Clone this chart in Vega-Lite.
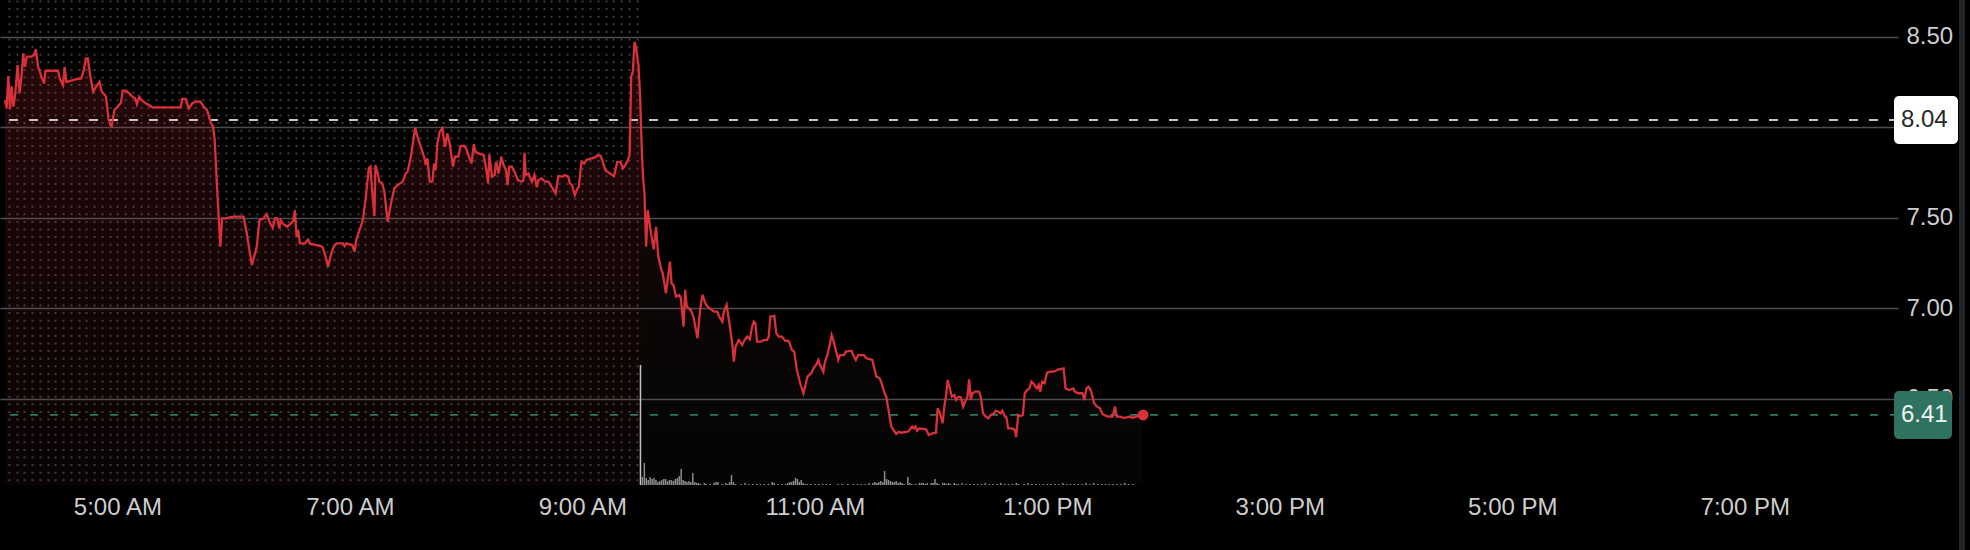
{
  "$schema": "https://vega.github.io/schema/vega-lite/v6.json",
  "width": 1898,
  "height": 485,
  "autosize": {"type": "none"},
  "padding": {"left": 0, "top": 0, "right": 72, "bottom": 65},
  "background": "#000000",
  "config": {"view": {"stroke": null}, "font": "Liberation Sans", "axis": {"labelFont": "Liberation Sans", "labelOverlap": false}, "axisX": {"labelOverlap": false}},
  "datasets": {
    "price": [
      {"t":"2024-01-02T04:02:00Z","p":8.150},{"t":"2024-01-02T04:02:51Z","p":8.104},{"t":"2024-01-02T04:03:43Z","p":8.283},{"t":"2024-01-02T04:04:34Z","p":8.099},{"t":"2024-01-02T04:05:25Z","p":8.227},{"t":"2024-01-02T04:06:17Z","p":8.113},{"t":"2024-01-02T04:07:08Z","p":8.169},{"t":"2024-01-02T04:08:30Z","p":8.343},{"t":"2024-01-02T04:09:31Z","p":8.187},{"t":"2024-01-02T04:10:33Z","p":8.288},{"t":"2024-01-02T04:11:25Z","p":8.408},{"t":"2024-01-02T04:12:16Z","p":8.334},{"t":"2024-01-02T04:13:17Z","p":8.390},{"t":"2024-01-02T04:15:41Z","p":8.390},{"t":"2024-01-02T04:17:03Z","p":8.399},{"t":"2024-01-02T04:17:54Z","p":8.430},{"t":"2024-01-02T04:19:06Z","p":8.334},{"t":"2024-01-02T04:20:49Z","p":8.279},{"t":"2024-01-02T04:22:11Z","p":8.242},{"t":"2024-01-02T04:22:52Z","p":8.312},{"t":"2024-01-02T04:29:22Z","p":8.312},{"t":"2024-01-02T04:30:13Z","p":8.270},{"t":"2024-01-02T04:31:56Z","p":8.233},{"t":"2024-01-02T04:32:47Z","p":8.334},{"t":"2024-01-02T04:33:38Z","p":8.251},{"t":"2024-01-02T04:35:21Z","p":8.255},{"t":"2024-01-02T04:38:46Z","p":8.266},{"t":"2024-01-02T04:41:20Z","p":8.270},{"t":"2024-01-02T04:42:42Z","p":8.316},{"t":"2024-01-02T04:43:44Z","p":8.380},{"t":"2024-01-02T04:44:45Z","p":8.380},{"t":"2024-01-02T04:46:07Z","p":8.279},{"t":"2024-01-02T04:47:29Z","p":8.196},{"t":"2024-01-02T04:49:02Z","p":8.224},{"t":"2024-01-02T04:50:44Z","p":8.251},{"t":"2024-01-02T04:51:56Z","p":8.196},{"t":"2024-01-02T04:53:18Z","p":8.181},{"t":"2024-01-02T04:54:10Z","p":8.169},{"t":"2024-01-02T04:55:22Z","p":8.049},{"t":"2024-01-02T04:56:23Z","p":8.012},{"t":"2024-01-02T04:57:04Z","p":8.006},{"t":"2024-01-02T04:58:26Z","p":8.095},{"t":"2024-01-02T04:59:48Z","p":8.110},{"t":"2024-01-02T05:01:51Z","p":8.135},{"t":"2024-01-02T05:02:43Z","p":8.202},{"t":"2024-01-02T05:04:25Z","p":8.202},{"t":"2024-01-02T05:06:08Z","p":8.187},{"t":"2024-01-02T05:07:50Z","p":8.169},{"t":"2024-01-02T05:09:13Z","p":8.159},{"t":"2024-01-02T05:10:04Z","p":8.128},{"t":"2024-01-02T05:11:16Z","p":8.169},{"t":"2024-01-02T05:12:28Z","p":8.150},{"t":"2024-01-02T05:14:41Z","p":8.132},{"t":"2024-01-02T05:18:06Z","p":8.110},{"t":"2024-01-02T05:32:38Z","p":8.110},{"t":"2024-01-02T05:33:29Z","p":8.157},{"t":"2024-01-02T05:35:12Z","p":8.157},{"t":"2024-01-02T05:36:55Z","p":8.104},{"t":"2024-01-02T05:38:37Z","p":8.132},{"t":"2024-01-02T05:40:20Z","p":8.141},{"t":"2024-01-02T05:42:54Z","p":8.141},{"t":"2024-01-02T05:44:37Z","p":8.113},{"t":"2024-01-02T05:46:19Z","p":8.095},{"t":"2024-01-02T05:48:02Z","p":8.030},{"t":"2024-01-02T05:49:23Z","p":8.003},{"t":"2024-01-02T05:50:15Z","p":7.929},{"t":"2024-01-02T05:51:27Z","p":7.671},{"t":"2024-01-02T05:52:18Z","p":7.506},{"t":"2024-01-02T05:53:10Z","p":7.340},{"t":"2024-01-02T05:54:01Z","p":7.496},{"t":"2024-01-02T05:55:43Z","p":7.496},{"t":"2024-01-02T06:00:00Z","p":7.506},{"t":"2024-01-02T06:05:08Z","p":7.506},{"t":"2024-01-02T06:06:50Z","p":7.413},{"t":"2024-01-02T06:09:24Z","p":7.238},{"t":"2024-01-02T06:11:58Z","p":7.340},{"t":"2024-01-02T06:13:20Z","p":7.487},{"t":"2024-01-02T06:15:23Z","p":7.496},{"t":"2024-01-02T06:17:06Z","p":7.520},{"t":"2024-01-02T06:18:49Z","p":7.469},{"t":"2024-01-02T06:20:11Z","p":7.445},{"t":"2024-01-02T06:21:22Z","p":7.496},{"t":"2024-01-02T06:22:34Z","p":7.496},{"t":"2024-01-02T06:23:36Z","p":7.441},{"t":"2024-01-02T06:24:17Z","p":7.487},{"t":"2024-01-02T06:25:39Z","p":7.465},{"t":"2024-01-02T06:27:42Z","p":7.450},{"t":"2024-01-02T06:30:47Z","p":7.482},{"t":"2024-01-02T06:31:38Z","p":7.542},{"t":"2024-01-02T06:32:29Z","p":7.395},{"t":"2024-01-02T06:33:20Z","p":7.432},{"t":"2024-01-02T06:34:12Z","p":7.358},{"t":"2024-01-02T06:36:46Z","p":7.358},{"t":"2024-01-02T06:38:28Z","p":7.380},{"t":"2024-01-02T06:39:20Z","p":7.358},{"t":"2024-01-02T06:42:45Z","p":7.349},{"t":"2024-01-02T06:45:50Z","p":7.340},{"t":"2024-01-02T06:47:01Z","p":7.303},{"t":"2024-01-02T06:48:44Z","p":7.229},{"t":"2024-01-02T06:50:26Z","p":7.303},{"t":"2024-01-02T06:51:38Z","p":7.340},{"t":"2024-01-02T06:53:01Z","p":7.358},{"t":"2024-01-02T06:56:26Z","p":7.358},{"t":"2024-01-02T06:57:17Z","p":7.343},{"t":"2024-01-02T06:58:08Z","p":7.358},{"t":"2024-01-02T07:01:13Z","p":7.349},{"t":"2024-01-02T07:02:25Z","p":7.312},{"t":"2024-01-02T07:03:16Z","p":7.377},{"t":"2024-01-02T07:04:59Z","p":7.432},{"t":"2024-01-02T07:06:41Z","p":7.487},{"t":"2024-01-02T07:08:04Z","p":7.598},{"t":"2024-01-02T07:09:46Z","p":7.773},{"t":"2024-01-02T07:10:37Z","p":7.782},{"t":"2024-01-02T07:11:29Z","p":7.653},{"t":"2024-01-02T07:12:41Z","p":7.509},{"t":"2024-01-02T07:13:11Z","p":7.791},{"t":"2024-01-02T07:14:23Z","p":7.745},{"t":"2024-01-02T07:15:14Z","p":7.699},{"t":"2024-01-02T07:16:37Z","p":7.693},{"t":"2024-01-02T07:17:49Z","p":7.644},{"t":"2024-01-02T07:19:31Z","p":7.478},{"t":"2024-01-02T07:21:14Z","p":7.579},{"t":"2024-01-02T07:22:56Z","p":7.662},{"t":"2024-01-02T07:24:39Z","p":7.680},{"t":"2024-01-02T07:27:13Z","p":7.699},{"t":"2024-01-02T07:28:55Z","p":7.745},{"t":"2024-01-02T07:29:47Z","p":7.754},{"t":"2024-01-02T07:31:29Z","p":7.837},{"t":"2024-01-02T07:33:43Z","p":7.997},{"t":"2024-01-02T07:34:55Z","p":7.948},{"t":"2024-01-02T07:36:37Z","p":7.892},{"t":"2024-01-02T07:38:20Z","p":7.837},{"t":"2024-01-02T07:39:11Z","p":7.791},{"t":"2024-01-02T07:40:02Z","p":7.828},{"t":"2024-01-02T07:41:14Z","p":7.699},{"t":"2024-01-02T07:42:36Z","p":7.699},{"t":"2024-01-02T07:43:28Z","p":7.800},{"t":"2024-01-02T07:44:19Z","p":7.763},{"t":"2024-01-02T07:45:10Z","p":7.911},{"t":"2024-01-02T07:46:22Z","p":7.975},{"t":"2024-01-02T07:47:44Z","p":7.994},
      {"t":"2024-01-02T07:49:06Z","p":7.892},{"t":"2024-01-02T07:50:18Z","p":7.966},{"t":"2024-01-02T07:51:30Z","p":7.911},{"t":"2024-01-02T07:52:31Z","p":7.837},{"t":"2024-01-02T07:53:13Z","p":7.782},{"t":"2024-01-02T07:54:14Z","p":7.837},{"t":"2024-01-02T07:55:56Z","p":7.837},{"t":"2024-01-02T07:57:08Z","p":7.896},{"t":"2024-01-02T07:58:51Z","p":7.898},{"t":"2024-01-02T08:00:03Z","p":7.883},{"t":"2024-01-02T08:01:25Z","p":7.837},{"t":"2024-01-02T08:02:47Z","p":7.800},{"t":"2024-01-02T08:03:59Z","p":7.907},{"t":"2024-01-02T08:04:50Z","p":7.865},{"t":"2024-01-02T08:06:32Z","p":7.855},{"t":"2024-01-02T08:09:07Z","p":7.846},{"t":"2024-01-02T08:10:19Z","p":7.773},{"t":"2024-01-02T08:11:20Z","p":7.690},{"t":"2024-01-02T08:12:01Z","p":7.850},{"t":"2024-01-02T08:13:23Z","p":7.727},{"t":"2024-01-02T08:14:45Z","p":7.736},{"t":"2024-01-02T08:15:26Z","p":7.809},{"t":"2024-01-02T08:16:49Z","p":7.745},{"t":"2024-01-02T08:18:10Z","p":7.837},{"t":"2024-01-02T08:19:22Z","p":7.791},{"t":"2024-01-02T08:20:34Z","p":7.763},{"t":"2024-01-02T08:21:25Z","p":7.680},{"t":"2024-01-02T08:22:17Z","p":7.782},{"t":"2024-01-02T08:23:39Z","p":7.782},{"t":"2024-01-02T08:25:22Z","p":7.745},{"t":"2024-01-02T08:26:44Z","p":7.708},{"t":"2024-01-02T08:28:47Z","p":7.699},{"t":"2024-01-02T08:29:38Z","p":7.708},{"t":"2024-01-02T08:30:09Z","p":7.859},{"t":"2024-01-02T08:30:50Z","p":7.736},{"t":"2024-01-02T08:32:12Z","p":7.745},{"t":"2024-01-02T08:33:55Z","p":7.699},{"t":"2024-01-02T08:35:17Z","p":7.736},{"t":"2024-01-02T08:36:28Z","p":7.668},{"t":"2024-01-02T08:37:20Z","p":7.708},{"t":"2024-01-02T08:39:02Z","p":7.717},{"t":"2024-01-02T08:40:45Z","p":7.699},{"t":"2024-01-02T08:42:28Z","p":7.699},{"t":"2024-01-02T08:44:10Z","p":7.671},{"t":"2024-01-02T08:46:13Z","p":7.634},{"t":"2024-01-02T08:47:35Z","p":7.730},{"t":"2024-01-02T08:49:38Z","p":7.727},{"t":"2024-01-02T08:51:01Z","p":7.736},{"t":"2024-01-02T08:52:43Z","p":7.727},{"t":"2024-01-02T08:53:34Z","p":7.690},{"t":"2024-01-02T08:54:46Z","p":7.680},{"t":"2024-01-02T08:56:08Z","p":7.625},{"t":"2024-01-02T08:57:30Z","p":7.662},{"t":"2024-01-02T08:58:11Z","p":7.671},{"t":"2024-01-02T08:59:34Z","p":7.809},{"t":"2024-01-02T09:00:56Z","p":7.800},{"t":"2024-01-02T09:02:07Z","p":7.819},{"t":"2024-01-02T09:04:41Z","p":7.828},{"t":"2024-01-02T09:06:24Z","p":7.833},{"t":"2024-01-02T09:08:07Z","p":7.846},{"t":"2024-01-02T09:09:29Z","p":7.841},{"t":"2024-01-02T09:10:41Z","p":7.804},{"t":"2024-01-02T09:11:52Z","p":7.763},{"t":"2024-01-02T09:13:35Z","p":7.749},{"t":"2024-01-02T09:16:19Z","p":7.730},{"t":"2024-01-02T09:18:02Z","p":7.809},{"t":"2024-01-02T09:19:44Z","p":7.809},{"t":"2024-01-02T09:20:56Z","p":7.773},{"t":"2024-01-02T09:22:08Z","p":7.791},{"t":"2024-01-02T09:23:30Z","p":7.819},{"t":"2024-01-02T09:24:22Z","p":7.846},{"t":"2024-01-02T09:25:13Z","p":8.279},{"t":"2024-01-02T09:26:04Z","p":8.307},{"t":"2024-01-02T09:26:55Z","p":8.472},{"t":"2024-01-02T09:27:47Z","p":8.436},{"t":"2024-01-02T09:28:58Z","p":8.343},{"t":"2024-01-02T09:29:50Z","p":8.169},{"t":"2024-01-02T09:30:41Z","p":7.874},{"t":"2024-01-02T09:31:22Z","p":7.717},{"t":"2024-01-02T09:32:03Z","p":7.640},{"t":"2024-01-02T09:32:55Z","p":7.340},{"t":"2024-01-02T09:33:46Z","p":7.542},{"t":"2024-01-02T09:34:37Z","p":7.480},{"t":"2024-01-02T09:35:28Z","p":7.413},{"t":"2024-01-02T09:36:50Z","p":7.325},{"t":"2024-01-02T09:38:02Z","p":7.450},{"t":"2024-01-02T09:39:14Z","p":7.285},{"t":"2024-01-02T09:40:36Z","p":7.220},
      {"t":"2024-01-02T09:41:28Z","p":7.193},{"t":"2024-01-02T09:43:10Z","p":7.082},{"t":"2024-01-02T09:44:01Z","p":7.156},{"t":"2024-01-02T09:45:13Z","p":7.257},{"t":"2024-01-02T09:46:04Z","p":7.137},{"t":"2024-01-02T09:47:06Z","p":7.128},{"t":"2024-01-02T09:48:18Z","p":7.064},{"t":"2024-01-02T09:50:01Z","p":7.073},{"t":"2024-01-02T09:50:52Z","p":7.054},{"t":"2024-01-02T09:52:14Z","p":6.898},{"t":"2024-01-02T09:53:05Z","p":7.101},{"t":"2024-01-02T09:53:56Z","p":7.008},{"t":"2024-01-02T09:55:59Z","p":6.990},{"t":"2024-01-02T09:57:22Z","p":6.953},{"t":"2024-01-02T09:59:25Z","p":6.834},{"t":"2024-01-02T10:00:47Z","p":6.990},{"t":"2024-01-02T10:01:59Z","p":7.073},{"t":"2024-01-02T10:03:41Z","p":7.023},{"t":"2024-01-02T10:04:53Z","p":7.005},{"t":"2024-01-02T10:07:58Z","p":6.981},{"t":"2024-01-02T10:09:40Z","p":6.981},{"t":"2024-01-02T10:10:32Z","p":6.957},{"t":"2024-01-02T10:12:14Z","p":6.926},{"t":"2024-01-02T10:13:05Z","p":6.981},{"t":"2024-01-02T10:14:28Z","p":7.018},{"t":"2024-01-02T10:15:40Z","p":6.935},{"t":"2024-01-02T10:17:22Z","p":6.806},{"t":"2024-01-02T10:18:13Z","p":6.705},{"t":"2024-01-02T10:19:05Z","p":6.788},{"t":"2024-01-02T10:20:47Z","p":6.824},{"t":"2024-01-02T10:22:30Z","p":6.797},{"t":"2024-01-02T10:23:42Z","p":6.824},{"t":"2024-01-02T10:25:04Z","p":6.843},{"t":"2024-01-02T10:26:26Z","p":6.828},{"t":"2024-01-02T10:27:38Z","p":6.898},{"t":"2024-01-02T10:28:29Z","p":6.926},{"t":"2024-01-02T10:29:20Z","p":6.916},{"t":"2024-01-02T10:30:11Z","p":6.815},{"t":"2024-01-02T10:31:54Z","p":6.815},{"t":"2024-01-02T10:33:37Z","p":6.824},{"t":"2024-01-02T10:35:19Z","p":6.824},{"t":"2024-01-02T10:36:11Z","p":6.843},{"t":"2024-01-02T10:37:02Z","p":6.953},{"t":"2024-01-02T10:39:05Z","p":6.957},{"t":"2024-01-02T10:40:07Z","p":6.861},{"t":"2024-01-02T10:41:19Z","p":6.843},{"t":"2024-01-02T10:43:01Z","p":6.843},{"t":"2024-01-02T10:44:44Z","p":6.819},{"t":"2024-01-02T10:46:26Z","p":6.819},{"t":"2024-01-02T10:47:17Z","p":6.797},{"t":"2024-01-02T10:48:09Z","p":6.769},{"t":"2024-01-02T10:49:21Z","p":6.760},{"t":"2024-01-02T10:50:43Z","p":6.659},{"t":"2024-01-02T10:52:26Z","p":6.585},{"t":"2024-01-02T10:54:08Z","p":6.530},{"t":"2024-01-02T10:54:59Z","p":6.567},{"t":"2024-01-02T10:56:11Z","p":6.622},{"t":"2024-01-02T10:58:25Z","p":6.644},{"t":"2024-01-02T10:59:16Z","p":6.668},{"t":"2024-01-02T11:00:38Z","p":6.686},{"t":"2024-01-02T11:01:50Z","p":6.714},{"t":"2024-01-02T11:02:41Z","p":6.686},{"t":"2024-01-02T11:04:24Z","p":6.649},{"t":"2024-01-02T11:05:15Z","p":6.705},{"t":"2024-01-02T11:06:27Z","p":6.741},{"t":"2024-01-02T11:07:29Z","p":6.788},{"t":"2024-01-02T11:08:40Z","p":6.852},{"t":"2024-01-02T11:09:32Z","p":6.824},{"t":"2024-01-02T11:10:23Z","p":6.788},{"t":"2024-01-02T11:11:14Z","p":6.751},{"t":"2024-01-02T11:12:06Z","p":6.714},{"t":"2024-01-02T11:12:57Z","p":6.741},{"t":"2024-01-02T11:15:00Z","p":6.741},{"t":"2024-01-02T11:16:02Z","p":6.760},{"t":"2024-01-02T11:18:56Z","p":6.765},{"t":"2024-01-02T11:19:47Z","p":6.741},{"t":"2024-01-02T11:21:10Z","p":6.714},{"t":"2024-01-02T11:22:22Z","p":6.741},{"t":"2024-01-02T11:25:16Z","p":6.741},{"t":"2024-01-02T11:26:38Z","p":6.723},{"t":"2024-01-02T11:29:43Z","p":6.714},{"t":"2024-01-02T11:30:55Z","p":6.659},{"t":"2024-01-02T11:31:46Z","p":6.622},{"t":"2024-01-02T11:33:28Z","p":6.613},{"t":"2024-01-02T11:34:20Z","p":6.589},{"t":"2024-01-02T11:36:02Z","p":6.530},{"t":"2024-01-02T11:36:53Z","p":6.511},{"t":"2024-01-02T11:37:45Z","p":6.456},{"t":"2024-01-02T11:38:36Z","p":6.401},{"t":"2024-01-02T11:39:28Z","p":6.346},{"t":"2024-01-02T11:40:40Z","p":6.327},{"t":"2024-01-02T11:42:01Z","p":6.305},{"t":"2024-01-02T11:43:23Z","p":6.318},{"t":"2024-01-02T11:44:35Z","p":6.312},{"t":"2024-01-02T11:48:01Z","p":6.318},{"t":"2024-01-02T11:48:52Z","p":6.327},{"t":"2024-01-02T11:50:14Z","p":6.346},{"t":"2024-01-02T11:50:55Z","p":6.336},{"t":"2024-01-02T11:51:56Z","p":6.346},{"t":"2024-01-02T11:52:47Z","p":6.323},{"t":"2024-01-02T11:53:59Z","p":6.336},{"t":"2024-01-02T11:57:25Z","p":6.331},{"t":"2024-01-02T11:58:47Z","p":6.299},{"t":"2024-01-02T12:00:50Z","p":6.309},{"t":"2024-01-02T12:02:32Z","p":6.312},{"t":"2024-01-02T12:03:24Z","p":6.447},{"t":"2024-01-02T12:04:36Z","p":6.419},{"t":"2024-01-02T12:05:58Z","p":6.364},{"t":"2024-01-02T12:06:49Z","p":6.456},{"t":"2024-01-02T12:07:40Z","p":6.511},{"t":"2024-01-02T12:08:32Z","p":6.603},{"t":"2024-01-02T12:09:23Z","p":6.567},{"t":"2024-01-02T12:10:45Z","p":6.511},{"t":"2024-01-02T12:11:57Z","p":6.520},{"t":"2024-01-02T12:12:48Z","p":6.493},{"t":"2024-01-02T12:14:10Z","p":6.511},{"t":"2024-01-02T12:15:22Z","p":6.508},{"t":"2024-01-02T12:16:34Z","p":6.456},{"t":"2024-01-02T12:17:35Z","p":6.484},{"t":"2024-01-02T12:18:47Z","p":6.511},{"t":"2024-01-02T12:19:38Z","p":6.607},{"t":"2024-01-02T12:20:30Z","p":6.493},{"t":"2024-01-02T12:21:21Z","p":6.530},{"t":"2024-01-02T12:22:43Z","p":6.539},{"t":"2024-01-02T12:24:46Z","p":6.539},{"t":"2024-01-02T12:25:38Z","p":6.511},{"t":"2024-01-02T12:26:49Z","p":6.419},{"t":"2024-01-02T12:28:11Z","p":6.401},{"t":"2024-01-02T12:29:34Z","p":6.392},{"t":"2024-01-02T12:30:46Z","p":6.410},{"t":"2024-01-02T12:32:28Z","p":6.419},{"t":"2024-01-02T12:33:19Z","p":6.434},{"t":"2024-01-02T12:34:41Z","p":6.428},{"t":"2024-01-02T12:35:53Z","p":6.419},{"t":"2024-01-02T12:36:44Z","p":6.434},{"t":"2024-01-02T12:38:07Z","p":6.401},{"t":"2024-01-02T12:38:47Z","p":6.401},{"t":"2024-01-02T12:39:49Z","p":6.336},{"t":"2024-01-02T12:41:52Z","p":6.336},{"t":"2024-01-02T12:43:14Z","p":6.327},{"t":"2024-01-02T12:43:55Z","p":6.287},{"t":"2024-01-02T12:44:57Z","p":6.410},{"t":"2024-01-02T12:46:09Z","p":6.404},{"t":"2024-01-02T12:47:21Z","p":6.410},{"t":"2024-01-02T12:48:22Z","p":6.530},{"t":"2024-01-02T12:49:34Z","p":6.548},{"t":"2024-01-02T12:50:46Z","p":6.557},{"t":"2024-01-02T12:51:47Z","p":6.594},{"t":"2024-01-02T12:52:59Z","p":6.581},{"t":"2024-01-02T12:53:51Z","p":6.567},{"t":"2024-01-02T12:54:42Z","p":6.557},{"t":"2024-01-02T12:55:34Z","p":6.576},{"t":"2024-01-02T12:56:25Z","p":6.539},{"t":"2024-01-02T12:57:16Z","p":6.594},{"t":"2024-01-02T12:58:38Z","p":6.585},{"t":"2024-01-02T12:59:50Z","p":6.644},{"t":"2024-01-02T13:01:32Z","p":6.649},{"t":"2024-01-02T13:03:15Z","p":6.649},{"t":"2024-01-02T13:05:49Z","p":6.662},
      {"t":"2024-01-02T13:07:22Z","p":6.664},{"t":"2024-01-02T13:08:23Z","p":6.668},{"t":"2024-01-02T13:09:25Z","p":6.557},{"t":"2024-01-02T13:11:13Z","p":6.548},{"t":"2024-01-02T13:13:25Z","p":6.557},{"t":"2024-01-02T13:14:14Z","p":6.539},{"t":"2024-01-02T13:15:59Z","p":6.530},{"t":"2024-01-02T13:18:08Z","p":6.530},{"t":"2024-01-02T13:19:10Z","p":6.493},{"t":"2024-01-02T13:20:11Z","p":6.557},{"t":"2024-01-02T13:21:13Z","p":6.566},{"t":"2024-01-02T13:22:26Z","p":6.548},{"t":"2024-01-02T13:24:11Z","p":6.475},{"t":"2024-01-02T13:25:40Z","p":6.456},{"t":"2024-01-02T13:27:13Z","p":6.447},{"t":"2024-01-02T13:28:30Z","p":6.414},{"t":"2024-01-02T13:31:07Z","p":6.401},{"t":"2024-01-02T13:33:41Z","p":6.401},{"t":"2024-01-02T13:34:58Z","p":6.456},{"t":"2024-01-02T13:35:50Z","p":6.401},{"t":"2024-01-02T13:37:35Z","p":6.401},{"t":"2024-01-02T13:39:44Z","p":6.393},{"t":"2024-01-02T13:41:53Z","p":6.401},{"t":"2024-01-02T13:44:02Z","p":6.395},{"t":"2024-01-02T13:46:40Z","p":6.404},{"t":"2024-01-02T13:49:26Z","p":6.410}
    ],
    "vol": [
      {"t":"2024-01-02T09:30:00Z","v":120},{"t":"2024-01-02T09:31:00Z","v":8},{"t":"2024-01-02T09:32:00Z","v":22},{"t":"2024-01-02T09:33:00Z","v":7},{"t":"2024-01-02T09:34:00Z","v":5},{"t":"2024-01-02T09:35:00Z","v":8},{"t":"2024-01-02T09:36:00Z","v":6},{"t":"2024-01-02T09:37:00Z","v":7},{"t":"2024-01-02T09:38:00Z","v":5},{"t":"2024-01-02T09:39:00Z","v":3},{"t":"2024-01-02T09:40:00Z","v":4},{"t":"2024-01-02T09:41:00Z","v":5},{"t":"2024-01-02T09:42:00Z","v":6},{"t":"2024-01-02T09:43:00Z","v":6},{"t":"2024-01-02T09:44:00Z","v":4},{"t":"2024-01-02T09:45:00Z","v":5},{"t":"2024-01-02T09:46:00Z","v":5},{"t":"2024-01-02T09:47:00Z","v":4},{"t":"2024-01-02T09:48:00Z","v":6},{"t":"2024-01-02T09:49:00Z","v":7},{"t":"2024-01-02T09:50:00Z","v":9},{"t":"2024-01-02T09:51:00Z","v":16},{"t":"2024-01-02T09:52:00Z","v":5},{"t":"2024-01-02T09:53:00Z","v":4},{"t":"2024-01-02T09:54:00Z","v":3},{"t":"2024-01-02T09:55:00Z","v":4},{"t":"2024-01-02T09:56:00Z","v":3},{"t":"2024-01-02T09:57:00Z","v":12},{"t":"2024-01-02T09:58:00Z","v":3},{"t":"2024-01-02T09:59:00Z","v":2},{"t":"2024-01-02T10:00:00Z","v":2},{"t":"2024-01-02T10:01:00Z","v":1},{"t":"2024-01-02T10:03:00Z","v":2},{"t":"2024-01-02T10:04:00Z","v":1},{"t":"2024-01-02T10:06:00Z","v":1},{"t":"2024-01-02T10:08:00Z","v":2},{"t":"2024-01-02T10:09:00Z","v":3},{"t":"2024-01-02T10:10:00Z","v":3},{"t":"2024-01-02T10:12:00Z","v":1},{"t":"2024-01-02T10:14:00Z","v":2},{"t":"2024-01-02T10:15:00Z","v":1},{"t":"2024-01-02T10:16:00Z","v":3},{"t":"2024-01-02T10:17:00Z","v":10},{"t":"2024-01-02T10:18:00Z","v":3},{"t":"2024-01-02T10:19:00Z","v":1},{"t":"2024-01-02T10:22:00Z","v":1},{"t":"2024-01-02T10:24:00Z","v":2},{"t":"2024-01-02T10:26:00Z","v":1},{"t":"2024-01-02T10:28:00Z","v":1},{"t":"2024-01-02T10:30:00Z","v":1},{"t":"2024-01-02T10:32:00Z","v":1},{"t":"2024-01-02T10:34:00Z","v":1},{"t":"2024-01-02T10:36:00Z","v":1},{"t":"2024-01-02T10:38:00Z","v":3},{"t":"2024-01-02T10:39:00Z","v":2},{"t":"2024-01-02T10:41:00Z","v":1},{"t":"2024-01-02T10:43:00Z","v":1},{"t":"2024-01-02T10:45:00Z","v":1},{"t":"2024-01-02T10:46:00Z","v":2},{"t":"2024-01-02T10:47:00Z","v":3},{"t":"2024-01-02T10:48:00Z","v":3},{"t":"2024-01-02T10:49:00Z","v":4},{"t":"2024-01-02T10:50:00Z","v":7},{"t":"2024-01-02T10:51:00Z","v":6},{"t":"2024-01-02T10:52:00Z","v":3},{"t":"2024-01-02T10:53:00Z","v":5},{"t":"2024-01-02T10:54:00Z","v":2},{"t":"2024-01-02T10:55:00Z","v":1},{"t":"2024-01-02T10:56:00Z","v":1},{"t":"2024-01-02T10:58:00Z","v":1},{"t":"2024-01-02T11:00:00Z","v":1},{"t":"2024-01-02T11:02:00Z","v":1},{"t":"2024-01-02T11:04:00Z","v":1},{"t":"2024-01-02T11:06:00Z","v":1},{"t":"2024-01-02T11:08:00Z","v":1},{"t":"2024-01-02T11:12:00Z","v":1},{"t":"2024-01-02T11:14:00Z","v":1},{"t":"2024-01-02T11:17:00Z","v":1},{"t":"2024-01-02T11:20:00Z","v":1},{"t":"2024-01-02T11:22:00Z","v":1},{"t":"2024-01-02T11:24:00Z","v":1},{"t":"2024-01-02T11:26:00Z","v":1},{"t":"2024-01-02T11:28:00Z","v":2},{"t":"2024-01-02T11:30:00Z","v":2},{"t":"2024-01-02T11:31:00Z","v":3},{"t":"2024-01-02T11:32:00Z","v":2},{"t":"2024-01-02T11:33:00Z","v":3},{"t":"2024-01-02T11:34:00Z","v":4},{"t":"2024-01-02T11:35:00Z","v":3},{"t":"2024-01-02T11:36:00Z","v":14},{"t":"2024-01-02T11:37:00Z","v":6},{"t":"2024-01-02T11:38:00Z","v":5},{"t":"2024-01-02T11:39:00Z","v":4},{"t":"2024-01-02T11:40:00Z","v":3},{"t":"2024-01-02T11:41:00Z","v":3},{"t":"2024-01-02T11:42:00Z","v":4},{"t":"2024-01-02T11:43:00Z","v":2},{"t":"2024-01-02T11:44:00Z","v":3},{"t":"2024-01-02T11:45:00Z","v":2},{"t":"2024-01-02T11:46:00Z","v":1},{"t":"2024-01-02T11:48:00Z","v":8},{"t":"2024-01-02T11:49:00Z","v":2},{"t":"2024-01-02T11:50:00Z","v":1},{"t":"2024-01-02T11:52:00Z","v":1},{"t":"2024-01-02T11:54:00Z","v":2},{"t":"2024-01-02T11:55:00Z","v":2},{"t":"2024-01-02T11:56:00Z","v":2},{"t":"2024-01-02T11:57:00Z","v":1},{"t":"2024-01-02T11:58:00Z","v":2},{"t":"2024-01-02T12:00:00Z","v":2},{"t":"2024-01-02T12:01:00Z","v":2},{"t":"2024-01-02T12:02:00Z","v":6},{"t":"2024-01-02T12:03:00Z","v":2},{"t":"2024-01-02T12:04:00Z","v":1},{"t":"2024-01-02T12:06:00Z","v":2},{"t":"2024-01-02T12:07:00Z","v":2},{"t":"2024-01-02T12:08:00Z","v":1},{"t":"2024-01-02T12:09:00Z","v":2},{"t":"2024-01-02T12:10:00Z","v":1},{"t":"2024-01-02T12:12:00Z","v":2},{"t":"2024-01-02T12:13:00Z","v":1},{"t":"2024-01-02T12:14:00Z","v":1},{"t":"2024-01-02T12:16:00Z","v":2},{"t":"2024-01-02T12:18:00Z","v":1},{"t":"2024-01-02T12:20:00Z","v":1},{"t":"2024-01-02T12:22:00Z","v":1},{"t":"2024-01-02T12:24:00Z","v":1},{"t":"2024-01-02T12:26:00Z","v":1},{"t":"2024-01-02T12:28:00Z","v":2},{"t":"2024-01-02T12:30:00Z","v":1},{"t":"2024-01-02T12:32:00Z","v":1},{"t":"2024-01-02T12:34:00Z","v":1},{"t":"2024-01-02T12:36:00Z","v":2},{"t":"2024-01-02T12:38:00Z","v":1},{"t":"2024-01-02T12:40:00Z","v":1},{"t":"2024-01-02T12:42:00Z","v":1},{"t":"2024-01-02T12:44:00Z","v":2},{"t":"2024-01-02T12:45:00Z","v":1},{"t":"2024-01-02T12:48:00Z","v":1},{"t":"2024-01-02T12:50:00Z","v":2},{"t":"2024-01-02T12:52:00Z","v":1},{"t":"2024-01-02T12:54:00Z","v":1},{"t":"2024-01-02T12:56:00Z","v":1},{"t":"2024-01-02T12:58:00Z","v":1},{"t":"2024-01-02T13:00:00Z","v":1},{"t":"2024-01-02T13:02:00Z","v":1},{"t":"2024-01-02T13:04:00Z","v":1},{"t":"2024-01-02T13:06:00Z","v":1},{"t":"2024-01-02T13:08:00Z","v":2},{"t":"2024-01-02T13:10:00Z","v":1},{"t":"2024-01-02T13:12:00Z","v":1},{"t":"2024-01-02T13:14:00Z","v":1},{"t":"2024-01-02T13:16:00Z","v":1},{"t":"2024-01-02T13:18:00Z","v":1},{"t":"2024-01-02T13:20:00Z","v":2},{"t":"2024-01-02T13:22:00Z","v":1},{"t":"2024-01-02T13:24:00Z","v":2},{"t":"2024-01-02T13:26:00Z","v":1},{"t":"2024-01-02T13:28:00Z","v":1},{"t":"2024-01-02T13:30:00Z","v":1},{"t":"2024-01-02T13:32:00Z","v":1},{"t":"2024-01-02T13:34:00Z","v":1},{"t":"2024-01-02T13:36:00Z","v":1},{"t":"2024-01-02T13:38:00Z","v":1},{"t":"2024-01-02T13:40:00Z","v":2},{"t":"2024-01-02T13:42:00Z","v":1},{"t":"2024-01-02T13:44:00Z","v":1}
    ],
    "levels": [
      {"kind": "prev", "p": 8.04, "label": "8.04"},
      {"kind": "last", "p": 6.41, "label": "6.41"}
    ]
  },
  "resolve": {"scale": {"y": "independent"}},
  "layer": [
    {
      "data": {"name": "price"},
      "layer": [
        {
          "transform": [{"filter": "toDate(datum.t) <= 1704187841000"}],
          "mark": {"type": "area", "line": false, "color": {"gradient": "linear", "x1": 0, "y1": 0, "x2": 0, "y2": 1, "stops": [{"offset": 0, "color": "rgba(220,45,55,0.19)"}, {"offset": 1, "color": "rgba(120,40,40,0.07)"}]}},
          "encoding": {
            "x": {
              "field": "t", "type": "temporal", "title": null,
              "scale": {"type": "utc", "nice": false, "domain": [{"year": 2024, "month": 1, "date": 2, "hours": 4, "minutes": 2, "utc": true}, {"year": 2024, "month": 1, "date": 2, "hours": 20, "minutes": 16, "seconds": 30, "utc": true}]},
              "axis": {
                "values": [1704168240000,1704168480000,1704168720000,1704168960000,1704169200000,1704169440000,1704169680000,1704169920000,1704170160000,1704170400000,1704170640000,1704170880000,1704171120000,1704171360000,1704171600000,1704171840000,1704172080000,1704172320000,1704172560000,1704172800000,1704173040000,1704173280000,1704173520000,1704173760000,1704174000000,1704174240000,1704174480000,1704174720000,1704174960000,1704175200000,1704175440000,1704175680000,1704175920000,1704176160000,1704176400000,1704176640000,1704176880000,1704177120000,1704177360000,1704177600000,1704177840000,1704178080000,1704178320000,1704178560000,1704178800000,1704179040000,1704179280000,1704179520000,1704179760000,1704180000000,1704180240000,1704180480000,1704180720000,1704180960000,1704181200000,1704181440000,1704181680000,1704181920000,1704182160000,1704182400000,1704182640000,1704182880000,1704183120000,1704183360000,1704183600000,1704183840000,1704184080000,1704184320000,1704184560000,1704184800000,1704185040000,1704185280000,1704185520000,1704185760000,1704186000000,1704186240000,1704186480000,1704186720000,1704186960000,1704187200000,1704187440000,1704187680000,1704193200000,1704200400000,1704207600000,1704214800000,1704222000000],
                "tickCount": 400,
                "labelExpr": "utcminutes(datum.value) == 0 && utchours(datum.value) % 2 == 1 ? utcFormat(datum.value, '%-I:%M %p') : ''",
                "grid": true, "gridDash": [2, 5.6], "gridWidth": 2, "gridColor": "#3c3c3c",
                "gridOpacity": {"condition": {"test": "datum.value > 1704187800000", "value": 0}, "value": 1},
                "ticks": false, "domain": false, "labelFontSize": 24, "labelColor": "#cdcdcd",
                "labelPadding": 10, "labelOverlap": false, "labelFlush": false, "labelBound": false
              }
            },
            "y": {
              "field": "p", "type": "quantitative", "title": null,
              "scale": {"domain": [6.023, 8.703], "nice": false, "zero": false},
              "axis": {"orient": "right", "values": [6.5, 7, 7.5, 8, 8.5], "format": ".2f", "grid": true, "gridColor": "#4b4f53", "gridWidth": 1.5, "ticks": false, "domain": false, "labelFontSize": 24, "labelColor": "#cdcdcd", "labelPadding": 8}
            },
            "y2": {"datum": 6.023}
          }
        },
        {
          "transform": [{"filter": "toDate(datum.t) >= 1704187841000"}],
          "mark": {"type": "area", "line": false, "color": {"gradient": "linear", "x1": 0, "y1": 0, "x2": 0, "y2": 1, "stops": [{"offset": 0, "color": "rgba(140,50,50,0.15)"}, {"offset": 1, "color": "rgba(60,60,60,0.07)"}]}},
          "encoding": {"x": {"field": "t", "type": "temporal"}, "y": {"field": "p", "type": "quantitative"}, "y2": {"datum": 6.023}}
        },
        {
          "data": {"name": "levels"},
          "transform": [{"filter": "datum.kind == 'prev'"}],
          "mark": {"type": "rule", "color": "#c4c4c4", "strokeWidth": 2, "strokeDash": [9, 11]},
          "encoding": {"y": {"field": "p", "type": "quantitative"}}
        },
        {
          "data": {"name": "levels"},
          "transform": [{"filter": "datum.kind == 'last'"}],
          "mark": {"type": "rule", "color": "#2e7a64", "strokeWidth": 1.8, "strokeDash": [8, 12]},
          "encoding": {"y": {"field": "p", "type": "quantitative"}}
        },
        {
          "mark": {"type": "line", "color": "#d8313a", "strokeWidth": 2.3},
          "encoding": {"x": {"field": "t", "type": "temporal"}, "y": {"field": "p", "type": "quantitative"}}
        },
        {
          "transform": [{"filter": "toDate(datum.t) >= 1704203360000"}],
          "mark": {"type": "point", "filled": true, "size": 120, "color": "#d8313a", "opacity": 1},
          "encoding": {"x": {"field": "t", "type": "temporal"}, "y": {"field": "p", "type": "quantitative"}}
        },
        {
          "data": {"name": "levels"},
          "transform": [{"filter": "datum.kind == 'prev'"}],
          "mark": {"type": "rect", "color": "#ffffff", "cornerRadius": 5, "xOffset": 1, "x2Offset": 65, "yOffset": -24, "y2Offset": 24},
          "encoding": {
            "x": {"datum": {"year": 2024, "month": 1, "date": 2, "hours": 20, "minutes": 16, "seconds": 30, "utc": true}},
            "x2": {"datum": {"year": 2024, "month": 1, "date": 2, "hours": 20, "minutes": 16, "seconds": 30, "utc": true}},
            "y": {"field": "p", "type": "quantitative"},
            "y2": {"field": "p"}
          }
        },
        {
          "data": {"name": "levels"},
          "transform": [{"filter": "datum.kind == 'prev'"}],
          "mark": {"type": "text", "align": "left", "baseline": "middle", "dx": 8, "fontSize": 24, "color": "#2a2a2a", "font": "Liberation Sans"},
          "encoding": {
            "x": {"datum": {"year": 2024, "month": 1, "date": 2, "hours": 20, "minutes": 16, "seconds": 30, "utc": true}},
            "y": {"field": "p", "type": "quantitative"},
            "text": {"field": "label"}
          }
        },
        {
          "data": {"name": "levels"},
          "transform": [{"filter": "datum.kind == 'last'"}],
          "mark": {"type": "rect", "color": "#2f725f", "cornerRadius": 5, "xOffset": 1, "x2Offset": 59, "yOffset": -24, "y2Offset": 24},
          "encoding": {
            "x": {"datum": {"year": 2024, "month": 1, "date": 2, "hours": 20, "minutes": 16, "seconds": 30, "utc": true}},
            "x2": {"datum": {"year": 2024, "month": 1, "date": 2, "hours": 20, "minutes": 16, "seconds": 30, "utc": true}},
            "y": {"field": "p", "type": "quantitative"},
            "y2": {"field": "p"}
          }
        },
        {
          "data": {"name": "levels"},
          "transform": [{"filter": "datum.kind == 'last'"}],
          "mark": {"type": "text", "align": "left", "baseline": "middle", "dx": 8, "fontSize": 24, "color": "#f2f2f2", "font": "Liberation Sans"},
          "encoding": {
            "x": {"datum": {"year": 2024, "month": 1, "date": 2, "hours": 20, "minutes": 16, "seconds": 30, "utc": true}},
            "y": {"field": "p", "type": "quantitative"},
            "text": {"field": "label"}
          }
        },
        {
          "data": {"name": "levels"},
          "transform": [{"filter": "datum.kind == 'prev'"}],
          "mark": {"type": "rect", "color": "#212528", "xOffset": 66, "x2Offset": 72, "y2Offset": 65},
          "encoding": {
            "x": {"datum": {"year": 2024, "month": 1, "date": 2, "hours": 20, "minutes": 16, "seconds": 30, "utc": true}},
            "x2": {"datum": {"year": 2024, "month": 1, "date": 2, "hours": 20, "minutes": 16, "seconds": 30, "utc": true}},
            "y": {"datum": 8.703},
            "y2": {"datum": 6.023}
          }
        }
      ]
    },
    {
      "data": {"name": "vol"},
      "mark": {"type": "bar", "size": 1.5},
      "encoding": {
        "x": {"field": "t", "type": "temporal"},
        "y": {"field": "v", "type": "quantitative", "scale": {"domain": [0, 485], "nice": false}, "axis": null},
        "color": {"condition": {"test": "datum.v > 100", "value": "#c4c4c4"}, "value": "#8c8c8c"}
      }
    }
  ]
}
